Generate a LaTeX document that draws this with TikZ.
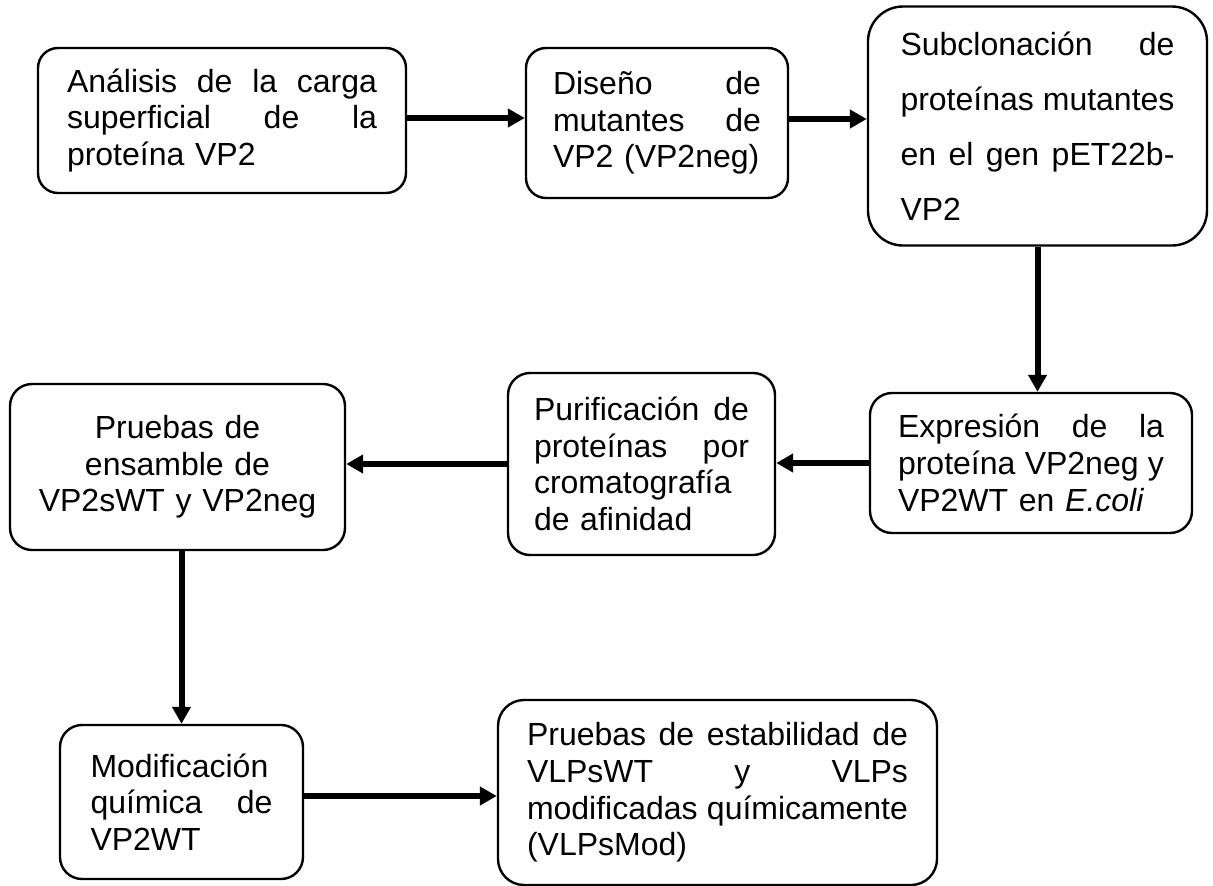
\documentclass[tikz,border=0pt]{standalone}
\usepackage{fontspec}
\setmainfont{Liberation Sans}
\usetikzlibrary{arrows.meta}
\begin{document}
\begin{tikzpicture}[x=1pt,y=-1pt,
  box/.style={draw, line width=2.4pt, inner sep=0pt, align=left,
    font=\fontsize{32}{36.7}\selectfont},
  flow/.style={line width=6pt, -{Triangle[length=17pt,width=18pt]}}]
\useasboundingbox (0,0) rectangle (1213,886);
\node[box, rounded corners=20pt, minimum width=368pt, minimum height=145pt, text width=310pt] (b1) at (222,120.5)
  {Análisis\hfill de\hfill la\hfill carga\\ superficial\hfill de\hfill la\\ proteína VP2};
\node[box, rounded corners=20pt, minimum width=262pt, minimum height=150pt, text width=208pt] (b2) at (657,123)
  {Diseño\hfill de\\ mutantes\hfill de\\ \mbox{VP2 (VP2neg)}};
\node[box, rounded corners=35pt, minimum width=339pt, minimum height=239pt, text width=274pt,
  font=\fontsize{32}{55}\selectfont] (b3) at (1037.5,126)
  {Subclonación\hfill de\\ proteínas\hfill mutantes\\ en\hfill el\hfill gen\hfill pET22b-\\ VP2};
\node[box, rounded corners=22pt, minimum width=322pt, minimum height=140pt, text width=266pt] (b4) at (1031,463)
  {Expresión\hfill de\hfill la\\ proteína\hfill VP2neg\hfill y\\ VP2WT en \textit{E.coli}};
\node[box, rounded corners=22pt, minimum width=267pt, minimum height=182pt, text width=215pt] (b5) at (641.5,464)
  {Purificación\hfill de\\ proteínas\hfill por\\ cromatografía\\ de afinidad};
\node[box, rounded corners=22pt, minimum width=335pt, minimum height=166pt, text width=300pt, align=center] (b6) at (177.5,467)
  {Pruebas de\\ ensamble de\\ VP2sWT y VP2neg};
\node[box, rounded corners=22pt, minimum width=243pt, minimum height=154pt, text width=182pt] (b7) at (181.5,802)
  {Modificación\\ química\hfill de\\ VP2WT};
\node[box, rounded corners=26pt, minimum width=439pt, minimum height=185pt, text width=381pt] (b8) at (717.5,792.5)
  {Pruebas\hfill de\hfill estabilidad\hfill de\\ VLPsWT\hfill y\hfill VLPs\\ modificadas\hfill químicamente\\ (VLPsMod)};
\draw[flow] ([yshift=2.5pt]b1.east) -- ([yshift=2.5pt]b1.east -| b2.west);
\draw[flow] ([yshift=4pt]b2.east) -- ([yshift=4pt]b2.east -| b3.west);
\draw[flow] (b3.south) -- (b3.south |- b4.north);
\draw[flow] (b4.west) -- (b4.west -| b5.east);
\draw[flow] (b5.west) -- (b5.west -| b6.east);
\draw[flow] (b7.north |- b6.south) -- (b7.north);
\draw[flow] ([yshift=6pt]b7.east) -- ([yshift=6pt]b7.east -| b8.west);
\end{tikzpicture}
\end{document}
